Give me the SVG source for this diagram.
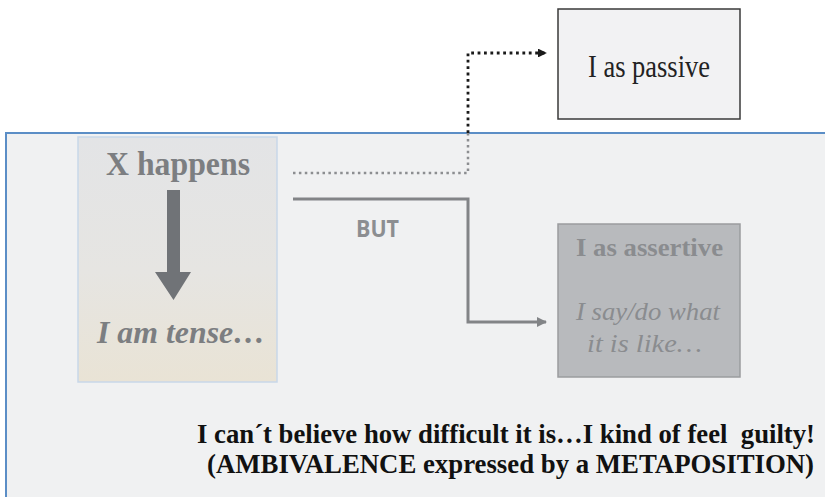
<svg xmlns="http://www.w3.org/2000/svg" width="825" height="497" viewBox="0 0 825 497">
<defs>
  <linearGradient id="gNode" x1="0" y1="0" x2="0" y2="1">
    <stop offset="0" stop-color="#e3e4e6"/>
    <stop offset="0.55" stop-color="#e6e5e2"/>
    <stop offset="1" stop-color="#e9e3d5"/>
  </linearGradient>
  <marker id="arrBlack" viewBox="0 0 10 10" refX="9" refY="5" markerWidth="3.2" markerHeight="3.2" orient="auto" markerUnits="strokeWidth">
    <path d="M0,0 L10,5 L0,10 z" fill="#1a1a1a"/>
  </marker>
  <marker id="arrGray" viewBox="0 0 10 10" refX="9" refY="5" markerWidth="3.4" markerHeight="3.4" orient="auto" markerUnits="strokeWidth">
    <path d="M0,0 L10,5 L0,10 z" fill="#828487"/>
  </marker>
</defs>
<style>
  .serif { font-family: "Liberation Serif", "Times New Roman", serif; }
  .faded { fill: #7c7e81; }
  .dotBlack { fill: none; stroke: #1a1a1a; stroke-width: 2.8; stroke-dasharray: 2.8 3.6; }
  .dotGray { fill: none; stroke: #8c8e91; stroke-width: 2.5; stroke-dasharray: 2.5 3.4; }
  .solid { fill: none; stroke: #828487; stroke-width: 3; }
</style>
<rect width="825" height="497" fill="#ffffff"/>

<g id="metaposition">
  <rect x="6" y="133" width="830" height="400" fill="#f0f1f2" stroke="#5b8ec6" stroke-width="2"/>
</g>

<g id="node-passive">
  <rect x="558" y="9" width="182" height="110" fill="#f2f2f3" stroke="#3a3a3a" stroke-width="1.5"/>
  <text class="serif" x="588" y="77" font-size="31" fill="#222222" textLength="122" lengthAdjust="spacingAndGlyphs">I as passive</text>
</g>

<g id="node-x-happens">
  <rect x="78" y="137" width="199" height="245" fill="url(#gNode)" stroke="#c8d7e9" stroke-width="1.5"/>
  <text class="serif faded" x="106" y="175" font-size="33" font-weight="bold" textLength="144" lengthAdjust="spacingAndGlyphs">X happens</text>
  <path d="M167,190 H180 V272 H191 L173.5,300 L155,272 H167 Z" fill="#707377"/>
  <text class="serif faded" x="97" y="343" font-size="31" font-weight="bold" font-style="italic" textLength="168" lengthAdjust="spacingAndGlyphs">I am tense…</text>
</g>

<g id="node-assertive">
  <rect x="558" y="224" width="182" height="153" fill="#b8babd" stroke="#9a9c9f" stroke-width="1.5"/>
  <text class="serif" x="576" y="256" font-size="25" font-weight="bold" fill="#8a8c8f" textLength="147" lengthAdjust="spacingAndGlyphs">I as assertive</text>
  <text class="serif" x="576" y="320" font-size="26" font-style="italic" fill="#8a8c8f" textLength="144" lengthAdjust="spacingAndGlyphs">I say/do what</text>
  <text class="serif" x="587" y="352" font-size="26" font-style="italic" fill="#8a8c8f" textLength="115" lengthAdjust="spacingAndGlyphs">it is like…</text>
</g>

<g id="connectors">
  <path class="dotGray" d="M293,173 H468 V133"/>
  <path class="dotBlack" d="M468,133 V53 H546" marker-end="url(#arrBlack)"/>
  <path class="solid" d="M293,199 H468 V322 H546" marker-end="url(#arrGray)"/>
  <text x="356" y="237" font-family="'Open Sans', 'Liberation Sans', sans-serif" font-size="23" font-weight="bold" fill="#8c8e91" textLength="43" lengthAdjust="spacingAndGlyphs">BUT</text>
</g>

<g id="caption">
  <text class="serif" x="197" y="443" font-size="27" font-weight="bold" fill="#111111" xml:space="preserve" textLength="618" lengthAdjust="spacingAndGlyphs">I can´t believe how difficult it is…I kind of feel  guilty!</text>
  <text class="serif" x="207" y="473" font-size="27" font-weight="bold" fill="#111111" textLength="607" lengthAdjust="spacingAndGlyphs">(AMBIVALENCE expressed by a METAPOSITION)</text>
</g>
</svg>
